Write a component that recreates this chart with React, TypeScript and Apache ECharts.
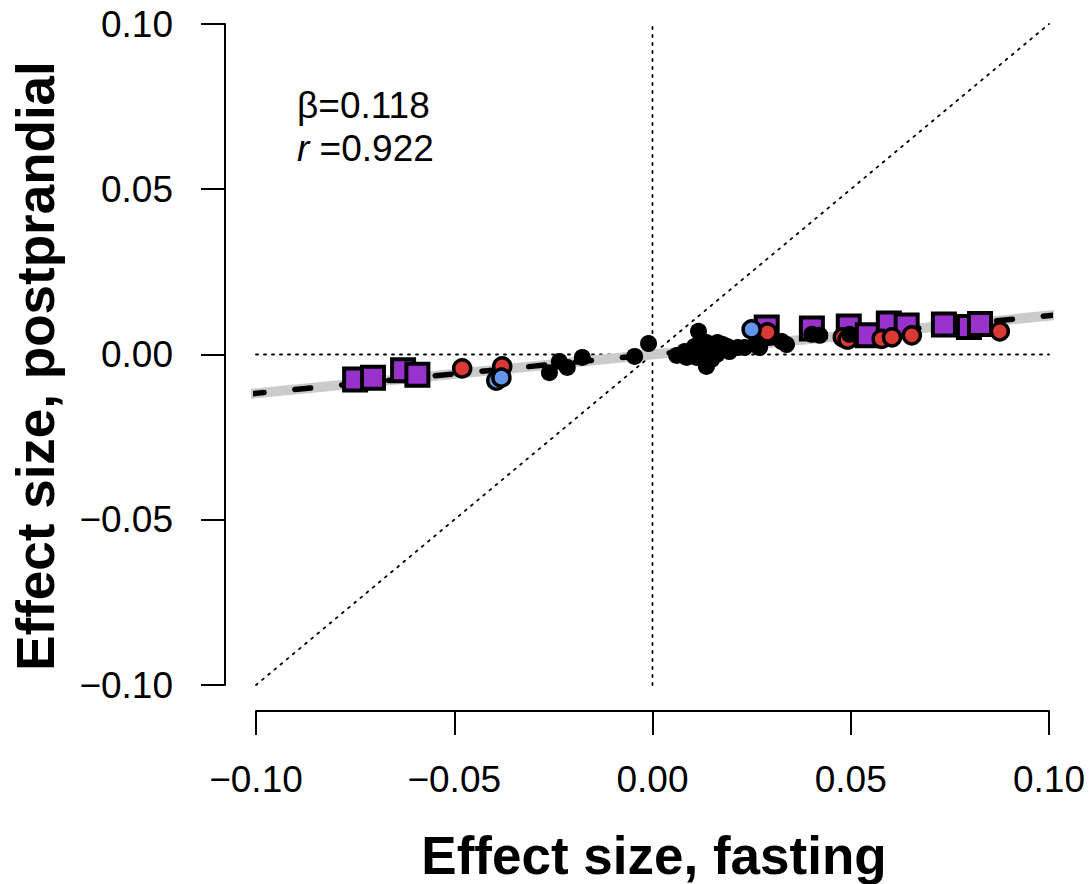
import React, { useEffect, useRef } from "react";
import * as echarts from "echarts";

// ---- data (fasting effect, postprandial effect) ----
const purpleSquares: [number, number][] = [
  [-0.075, -0.0076],
  [-0.0705, -0.007],
  [-0.0629, -0.0048],
  [-0.0593, -0.0061],
  [0.0288, 0.0082],
  [0.0402, 0.0079],
  [0.0495, 0.0085],
  [0.0543, 0.0058],
  [0.0596, 0.0094],
  [0.0641, 0.0088],
  [0.0735, 0.0091],
  [0.0798, 0.0083],
  [0.0826, 0.0092],
];

const redCircles: [number, number][] = [
  [-0.048, -0.0042],
  [-0.0379, -0.0036],
  [0.029, 0.0067],
  [0.048, 0.0052],
  [0.0492, 0.0045],
  [0.0578, 0.0047],
  [0.0604, 0.0052],
  [0.0654, 0.0058],
  [0.0876, 0.007],
];

const blueCircles: [number, number][] = [
  [-0.0394, -0.0079],
  [-0.0381, -0.007],
  [0.025, 0.0076],
];

const blackDots: [number, number][] = [
  [-0.026, -0.0055],
  [-0.0235, -0.0021],
  [-0.0215, -0.0039],
  [-0.0177, -0.0009],
  [-0.0045, -0.0006],
  [-0.001, 0.0033],
  [0.0061, -0.0003],
  [0.0081, 0.0009],
  [0.0086, -0.0009],
  [0.0106, 0.0024],
  [0.0111, -0.0009],
  [0.0116, 0.007],
  [0.0126, 0.0009],
  [0.0136, 0.0036],
  [0.0136, -0.0036],
  [0.0149, -0.0015],
  [0.0162, 0.0],
  [0.0164, 0.0036],
  [0.0177, 0.003],
  [0.0189, 0.0024],
  [0.0194, 0.0009],
  [0.0215, 0.0021],
  [0.0232, 0.0021],
  [0.0258, 0.003],
  [0.027, 0.0021],
  [0.0326, 0.0039],
  [0.0338, 0.003],
  [0.0402, 0.0061],
  [0.0422, 0.0058],
  [0.0497, 0.0061],
];

const fitLine: [number, number][] = [
  [-0.102, -0.012],
  [0.102, 0.012],
];
const identityLine: [number, number][] = [
  [-0.1, -0.1],
  [0.1, 0.1],
];
const zeroVertical: [number, number][] = [
  [0, -0.1],
  [0, 0.1],
];
const zeroHorizontal: [number, number][] = [
  [-0.1, 0],
  [0.1, 0],
];

const axisTicks = { min: -0.1, max: 0.1, interval: 0.05 };
const annotationBeta = "β=0.118";
const annotationR = "0.922";
const xTitle = "Effect size, fasting";
const yTitle = "Effect size, postprandial";

const FONT = "'Liberation Sans', Arial, Helvetica, sans-serif";

const fmt = (v: number) => {
  const s = Math.abs(v).toFixed(2);
  return (v < -1e-9 ? "\u2212" : "") + s;
};

export default function App() {
  const ref = useRef<HTMLDivElement>(null);

  useEffect(() => {
    if (!ref.current) return;
    const chart = echarts.init(ref.current, undefined, { renderer: "svg" });

    const dotted = {
      type: [2, 6] as any,
      width: 1.8,
      color: "#000",
      cap: "round" as any,
    };

    const refLine = (data: [number, number][]) => ({
      type: "line",
      data,
      showSymbol: false,
      symbol: "none",
      silent: true,
      lineStyle: dotted,
      z: 1,
    });

    const axisCommon = {
      type: "value" as const,
      min: axisTicks.min,
      max: axisTicks.max,
      interval: axisTicks.interval,
      splitLine: { show: false },
      axisLine: { show: true, onZero: false, lineStyle: { color: "#000", width: 2 } },
      axisTick: { show: true, inside: false, length: 24, lineStyle: { color: "#000", width: 2 } },
      axisLabel: {
        show: true,
        formatter: fmt,
        color: "#000",
        fontSize: 37,
        fontFamily: FONT,
        showMinLabel: true,
        showMaxLabel: true,
      },
    };

    chart.setOption({
      animation: false,
      backgroundColor: "#fff",
      grid: { left: 256, right: 43, top: 24, bottom: 199, containLabel: false },
      xAxis: {
        ...axisCommon,
        position: "bottom",
        offset: 26,
        axisLabel: { ...axisCommon.axisLabel, margin: 50 },
      },
      yAxis: {
        ...axisCommon,
        position: "left",
        offset: 31,
        axisLabel: { ...axisCommon.axisLabel, margin: 52 },
      },
      graphic: [
        {
          type: "text",
          x: 654,
          y: 855,
          style: {
            text: xTitle,
            fontSize: 53,
            fontWeight: "bold",
            fontFamily: FONT,
            fill: "#000",
            align: "center",
            verticalAlign: "middle",
            textAlign: "center",
            textVerticalAlign: "middle",
          },
        },
        {
          type: "text",
          x: 35,
          y: 366,
          rotation: Math.PI / 2,
          style: {
            text: yTitle,
            fontSize: 53,
            fontWeight: "bold",
            fontFamily: FONT,
            fill: "#000",
            align: "center",
            verticalAlign: "middle",
            textAlign: "center",
            textVerticalAlign: "middle",
          },
        },
        {
          type: "text",
          x: 297,
          y: 105,
          style: {
            text: annotationBeta,
            fontSize: 37,
            fontFamily: FONT,
            fill: "#000",
            align: "left",
            verticalAlign: "middle",
            textAlign: "left",
            textVerticalAlign: "middle",
          },
        },
        {
          type: "text",
          x: 297,
          y: 148,
          style: {
            text: "{i|r}{n| =" + annotationR + "}",
            fontSize: 37,
            fontFamily: FONT,
            fill: "#000",
            align: "left",
            verticalAlign: "middle",
            textAlign: "left",
            textVerticalAlign: "middle",
            rich: {
              i: { fontStyle: "italic", fontSize: 37, fontFamily: FONT, fill: "#000" },
              n: { fontSize: 37, fontFamily: FONT, fill: "#000" },
            },
          },
        },
      ],
      series: [
        refLine(zeroHorizontal),
        refLine(zeroVertical),
        refLine(identityLine),
        {
          type: "line",
          data: fitLine,
          showSymbol: false,
          symbol: "none",
          clip: false,
          silent: true,
          lineStyle: { color: "#cbcbcb", width: 10 },
          z: 2,
        },
        {
          type: "line",
          data: fitLine,
          showSymbol: false,
          symbol: "none",
          clip: false,
          silent: true,
          lineStyle: { color: "#000", width: 5.5, type: [16, 31] as any, cap: "round" as any },
          z: 3,
        },
        {
          type: "scatter",
          data: purpleSquares,
          symbol: "rect",
          symbolSize: 22,
          itemStyle: { color: "#9932CC", borderColor: "#000", borderWidth: 4, opacity: 1 },
          z: 4,
        },
        {
          type: "scatter",
          data: redCircles,
          symbol: "circle",
          symbolSize: 17,
          itemStyle: { color: "#DB3A34", borderColor: "#000", borderWidth: 3.5, opacity: 1 },
          z: 5,
        },
        {
          type: "scatter",
          data: blueCircles,
          symbol: "circle",
          symbolSize: 17,
          itemStyle: { color: "#6495ED", borderColor: "#000", borderWidth: 3.5, opacity: 1 },
          z: 6,
        },
        {
          type: "scatter",
          data: blackDots,
          symbol: "circle",
          symbolSize: 17,
          itemStyle: { color: "#000", borderWidth: 0, opacity: 1 },
          z: 7,
        },
      ],
    });

    return () => chart.dispose();
  }, []);

  return (
    <div
      ref={ref}
      style={{ position: "absolute", left: 0, top: 0, width: 1092, height: 884, background: "#fff" }}
    />
  );
}
